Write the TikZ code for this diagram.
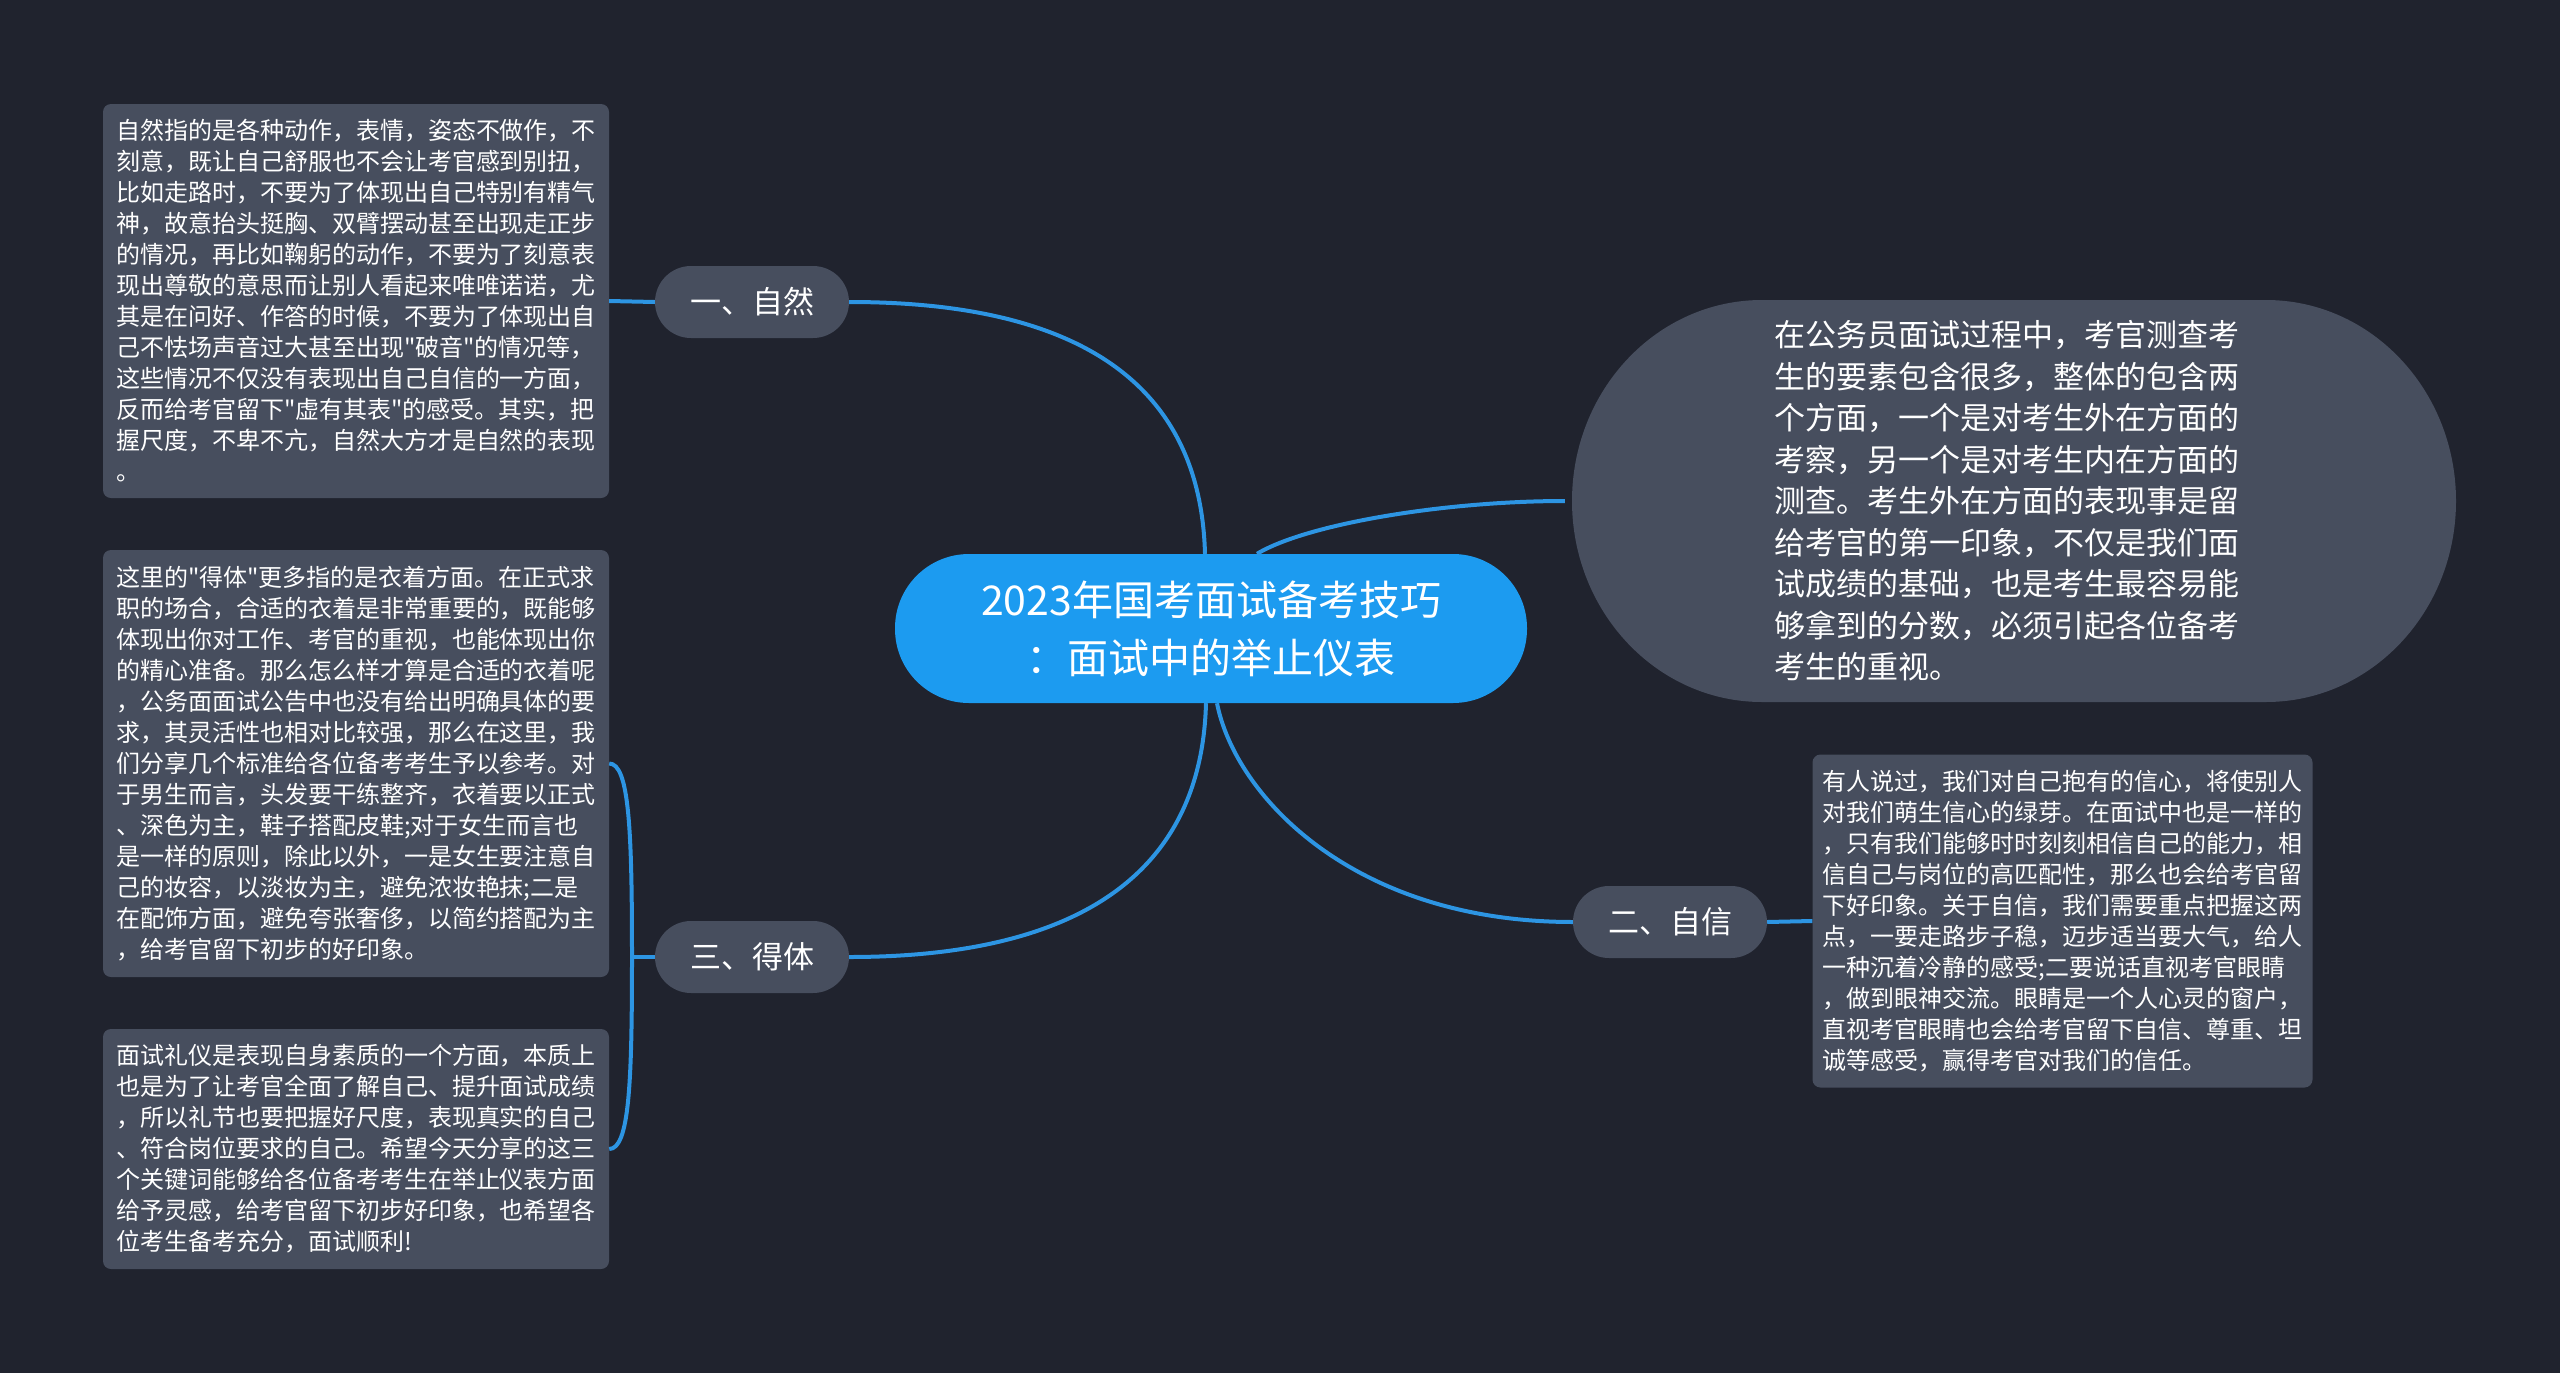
\documentclass[tikz,border=0pt]{standalone}
\usepackage{fontspec}
\setmainfont{Noto Sans CJK SC}[Ligatures=TeXOff]
\definecolor{bg}{HTML}{20232E}
\definecolor{gnode}{HTML}{474E5E}
\definecolor{cblue}{HTML}{1C9BF0}
\definecolor{lblue}{HTML}{2D95E3}
\begin{document}
\begin{tikzpicture}[x=1pt,y=-1pt,
  box/.style={fill=gnode, rounded corners=8pt, text=white, align=left,
    font=\fontsize{24pt}{31pt}\selectfont, inner sep=0pt, minimum width=506pt},
  sub/.style={fill=gnode, rounded corners=36pt, text=white,
    font=\fontsize{31pt}{36pt}\selectfont, minimum width=194pt, minimum height=72pt, inner sep=0pt},
  link/.style={draw=lblue, line width=4pt}]
\fill[bg] (0,0) rectangle (2560,1373);
\useasboundingbox (0,0) rectangle (2560,1373);

% right intro shape
\fill[gnode] (1762,300) -- (2266,300)
  .. controls (2371,300) and (2456,390) .. (2456,501)
  .. controls (2456,612) and (2371,702) .. (2266,702)
  -- (1762,702)
  .. controls (1657,702) and (1572,612) .. (1572,501)
  .. controls (1572,390) and (1657,300) .. (1762,300) -- cycle;

\node[text=white, align=left, font=\fontsize{31pt}{41.5pt}\selectfont,
  minimum width=884pt, minimum height=402pt, inner sep=0pt] (intro) at (2007,501)
{在公务员面试过程中，考官测查考\\
生的要素包含很多，整体的包含两\\
个方面，一个是对考生外在方面的\\
考察，另一个是对考生内在方面的\\
测查。考生外在方面的表现事是留\\
给考官的第一印象，不仅是我们面\\
试成绩的基础，也是考生最容易能\\
够拿到的分数，必须引起各位备考\\
考生的重视。};

\node[fill=cblue, rounded corners=74pt, minimum width=632pt, minimum height=149pt,
  text=white, align=center, font=\fontsize{41pt}{58pt}\selectfont, inner sep=0pt]
  (c) at (1211,628.5) {2023年国考面试备考技巧\\：面试中的举止仪表};

\node[sub] (s1) at (752,302) {一、自然};
\node[sub] (s3) at (752,957) {三、得体};
\node[sub] (s2) at (1670,922) {二、自信};

\node[box, minimum height=394pt] (b1) at (356,301)
{自然指的是各种动作，表情，姿态不做作，不\\
刻意，既让自己舒服也不会让考官感到别扭，\\
比如走路时，不要为了体现出自己特别有精气\\
神，故意抬头挺胸、双臂摆动甚至出现走正步\\
的情况，再比如鞠躬的动作，不要为了刻意表\\
现出尊敬的意思而让别人看起来唯唯诺诺，尤\\
其是在问好、作答的时候，不要为了体现出自\\
己不怯场声音过大甚至出现"破音"的情况等，\\
这些情况不仅没有表现出自己自信的一方面，\\
反而给考官留下"虚有其表"的感受。其实，把\\
握尺度，不卑不亢，自然大方才是自然的表现\\
。};

\node[box, minimum height=427pt] (b2) at (356,763.5)
{这里的"得体"更多指的是衣着方面。在正式求\\
职的场合，合适的衣着是非常重要的，既能够\\
体现出你对工作、考官的重视，也能体现出你\\
的精心准备。那么怎么样才算是合适的衣着呢\\
，公务面面试公告中也没有给出明确具体的要\\
求，其灵活性也相对比较强，那么在这里，我\\
们分享几个标准给各位备考考生予以参考。对\\
于男生而言，头发要干练整齐，衣着要以正式\\
、深色为主，鞋子搭配皮鞋;对于女生而言也\\
是一样的原则，除此以外，一是女生要注意自\\
己的妆容，以淡妆为主，避免浓妆艳抹;二是\\
在配饰方面，避免夸张奢侈，以简约搭配为主\\
，给考官留下初步的好印象。};

\node[box, minimum height=240pt] (b3) at (356,1149)
{面试礼仪是表现自身素质的一个方面，本质上\\
也是为了让考官全面了解自己、提升面试成绩\\
，所以礼节也要把握好尺度，表现真实的自己\\
、符合岗位要求的自己。希望今天分享的这三\\
个关键词能够给各位备考考生在举止仪表方面\\
给予灵感，给考官留下初步好印象，也希望各\\
位考生备考充分，面试顺利!};

\node[box, minimum width=500pt, minimum height=333pt] (b4) at (2062.5,921)
{有人说过，我们对自己抱有的信心，将使别人\\
对我们萌生信心的绿芽。在面试中也是一样的\\
，只有我们能够时时刻刻相信自己的能力，相\\
信自己与岗位的高匹配性，那么也会给考官留\\
下好印象。关于自信，我们需要重点把握这两\\
点，一要走路步子稳，迈步适当要大气，给人\\
一种沉着冷静的感受;二要说话直视考官眼睛\\
，做到眼神交流。眼睛是一个人心灵的窗户，\\
直视考官眼睛也会给考官留下自信、尊重、坦\\
诚等感受，赢得考官对我们的信任。};

% connectors
\draw[link] (s1.east) .. controls +(200,0) and +(-5,-190) .. ([xshift=-6pt]c.north);
\draw[link] (s3.east) .. controls +(200,0) and +(-5,190) .. ([xshift=-5pt]c.south);
\draw[link] ([xshift=46pt]c.north) .. controls +(50,-30) and +(-120,0) .. (intro.west);
\draw[link] ([xshift=6pt]c.south) .. controls +(18,92) and +(-220,0) .. (s2.west);
\draw[link] (s1.west) -- (b1.east);
\draw[link] (s2.east) -- (b4.west);
\coordinate (br) at (632,957);
\draw[link] (s3.west) -- (br);
\draw[link] (br) .. controls +(0,-127) and +(20,0) .. (b2.east);
\draw[link] (br) .. controls +(0,127) and +(20,0) .. (b3.east);
\end{tikzpicture}
\end{document}
